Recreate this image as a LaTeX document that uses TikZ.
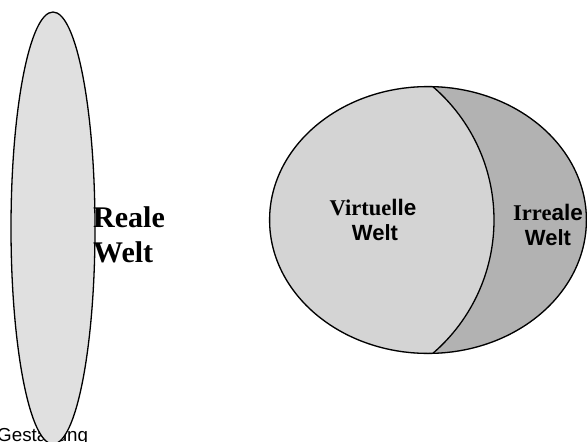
\documentclass[tikz,border=0pt]{standalone}
\usepackage{fontspec}
\setmainfont{Liberation Serif}
\newfontfamily\sansf{Liberation Sans}
\definecolor{lightel}{HTML}{E0E0E0}
\definecolor{virtgray}{HTML}{D4D4D4}
\definecolor{irrgray}{HTML}{B2B2B2}
\tikzset{
  outline/.style={draw=black,line width=1.3pt},
  txt/.style={inner sep=0pt,anchor=base},
}
\begin{document}
\begin{tikzpicture}[x=1pt,y=-1pt]
\useasboundingbox (0,0) rectangle (587,442);
% caption partly hidden by the ellipse
\node[txt,anchor=base west,font=\sansf\fontsize{18.8}{20}\selectfont] (gest) at (-3,441) {Gestaltung};
% real world ellipse
\path[fill=lightel,outline] (53,228) ellipse [x radius=42,y radius=216];
\node[txt,anchor=base west,font=\bfseries\fontsize{30}{32}\selectfont] (reale) at (93,227) {Reale};
\node[txt,anchor=base west,font=\bfseries\fontsize{30}{32}\selectfont] (welt1) at (93,262) {Welt};
% virtual / unreal world
\fill[irrgray] (428,220) ellipse [x radius=159,y radius=134];
\begin{scope}
  \clip (428,220) ellipse [x radius=159,y radius=134];
  \fill[virtgray] (318,220) circle [radius=176];
  \draw[outline] (318,220) circle [radius=176];
\end{scope}
\draw[outline] (428,220) ellipse [x radius=158.4,y radius=133.4];
\node[txt,font=\fontsize{22.5}{25}\selectfont] (virt) at (373,215) {\bfseries Virtue{\sansf lle}};
\node[txt,font=\sansf\bfseries\fontsize{22}{25}\selectfont] (welt2) at (375,240) {Welt};
\node[txt,font=\fontsize{22.5}{25}\selectfont] (irr) at (548,220) {\bfseries Irre{\sansf ale}};
\node[txt,font=\sansf\bfseries\fontsize{22}{25}\selectfont] (welt3) at (548,245) {Welt};
\end{tikzpicture}
\end{document}
